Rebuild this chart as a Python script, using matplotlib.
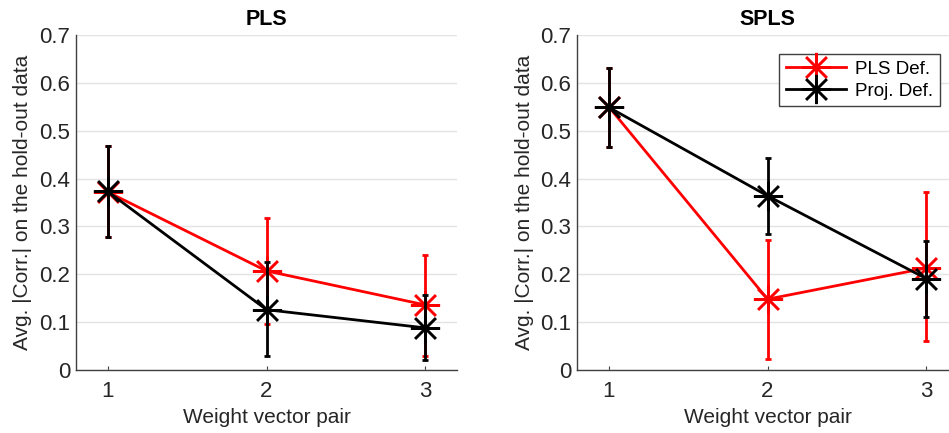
import matplotlib
matplotlib.use("Agg")
import matplotlib.pyplot as plt

plt.rcParams['font.family'] = ['Liberation Sans', 'DejaVu Sans']

pairs = [1, 2, 3]

# PLS panel
pls_red = [0.372, 0.207, 0.136]
pls_red_lo = [0.277, 0.097, 0.030]
pls_red_hi = [0.469, 0.317, 0.240]
pls_black = [0.373, 0.126, 0.088]
pls_black_lo = [0.277, 0.029, 0.020]
pls_black_hi = [0.469, 0.225, 0.157]

# SPLS panel
spls_red = [0.550, 0.148, 0.213]
spls_red_lo = [0.466, 0.023, 0.060]
spls_red_hi = [0.632, 0.272, 0.372]
spls_black = [0.549, 0.364, 0.191]
spls_black_lo = [0.466, 0.285, 0.111]
spls_black_hi = [0.632, 0.444, 0.270]

titles = ['PLS', 'SPLS']
series_labels = ['PLS Def.', 'Proj. Def.']
yticks = [0, 0.1, 0.2, 0.3, 0.4, 0.5, 0.6, 0.7]
ytick_labels = ['0', '0.1', '0.2', '0.3', '0.4', '0.5', '0.6', '0.7']

W, H = 949, 433
fig = plt.figure(figsize=(W / 100, H / 100), dpi=100)

panels = [
    (76, (pls_red, pls_red_lo, pls_red_hi), (pls_black, pls_black_lo, pls_black_hi)),
    (577, (spls_red, spls_red_lo, spls_red_hi), (spls_black, spls_black_lo, spls_black_hi)),
]

ax_w, top, bottom = 381, 35, 370
axes = []
for i, (left, red, black) in enumerate(panels):
    ax = fig.add_axes([left / W, 1 - bottom / H, ax_w / W, (bottom - top) / H])
    axes.append(ax)
    handles = []
    for (vals, lo, hi), col, lab in [(red, 'red', series_labels[0]), (black, 'black', series_labels[1])]:
        err = [[v - l for v, l in zip(vals, lo)], [h - v for v, h in zip(vals, hi)]]
        ax.errorbar(pairs, vals, yerr=err, fmt='none', ecolor=col, elinewidth=2,
                    capsize=2.5, capthick=2)
        ln, = ax.plot(pairs, vals, color=col, lw=2, marker=(8, 2, 0), markersize=21,
                      mew=1.8, label=lab)
        handles.append(ln)
    ax.set_xlim(0.8, 3.2)
    ax.set_ylim(0, 0.7)
    ax.set_xticks(pairs)
    ax.set_yticks(yticks)
    ax.set_yticklabels(ytick_labels)
    ax.yaxis.grid(True, color='#e3e3e3', lw=1)
    ax.set_axisbelow(True)
    for s in ['top', 'right']:
        ax.spines[s].set_visible(False)
    for s in ['left', 'bottom']:
        ax.spines[s].set_color('#404040')
        ax.spines[s].set_linewidth(1)
    ax.tick_params(direction='in', length=3, colors='#404040', labelcolor='#262626',
                   labelsize=16, pad=8)
    ax.tick_params(axis='y', length=0, pad=4)
    ax.set_xlabel('Weight vector pair', fontsize=15, color='#262626', labelpad=4)
    ax.set_ylabel('Avg. |Corr.| on the hold-out data', fontsize=15, color='#262626', labelpad=5)
    ax.set_title(titles[i], fontsize=15.5, fontweight='bold', pad=7)

leg = axes[1].legend(handles=handles, loc='upper right', bbox_to_anchor=(0.953, 0.943),
                     borderaxespad=0, fontsize=13.5, fancybox=False, framealpha=1,
                     edgecolor='#404040', handlelength=3.2, borderpad=0.35,
                     labelspacing=0.25, handletextpad=0.5)
leg.get_frame().set_linewidth(1)

fig.savefig('out.png', dpi=100)
